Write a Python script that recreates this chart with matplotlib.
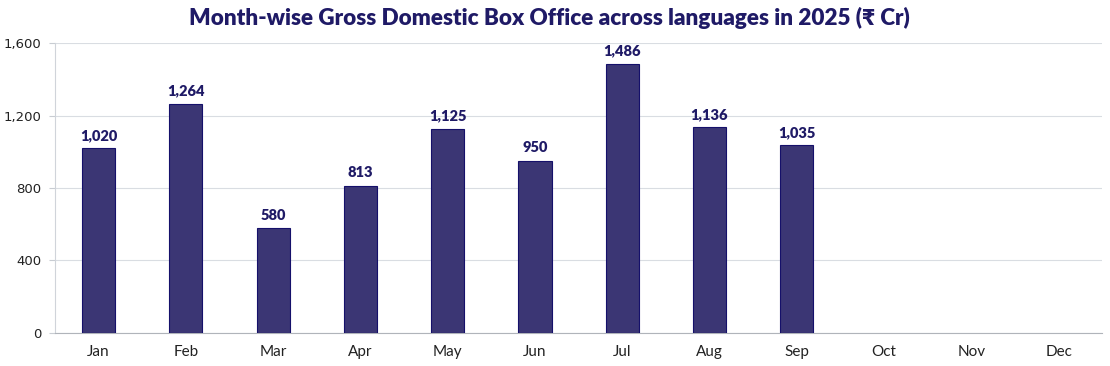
import numpy as np
import matplotlib.pyplot as plt
from matplotlib.ticker import FuncFormatter

months = ["Jan", "Feb", "Mar", "Apr", "May", "Jun", "Jul", "Aug", "Sep", "Oct", "Nov", "Dec"]
gross_cr = [1020, 1264, 580, 813, 1125, 950, 1486, 1136, 1035]
yticks = [0, 400, 800, 1200, 1600]

navy = "#1f1a66"
bar_color = "#3b3674"

fig = plt.figure(figsize=(11.1, 3.66), dpi=100)
ax = fig.add_axes([0.0495, 0.0902, 0.9435, 0.7923])

x = np.arange(len(months))
bars = ax.bar(x[:len(gross_cr)], gross_cr, width=0.38, color=bar_color,
              edgecolor="#15106a", linewidth=0.8, zorder=3)

for xi, v in zip(x, gross_cr):
    ax.text(xi, v + 35, f"{v:,}", ha="center", va="bottom", fontsize=10.5,
            fontweight="heavy", color=navy, family="Lato")

ax.set_xlim(-0.5, len(months) - 0.5)
ax.set_ylim(0, 1600)
ax.set_xticks(x)
ax.set_xticklabels(months, fontsize=11, family="Lato", color="#222222")
ax.set_yticks(yticks)
ax.yaxis.set_major_formatter(FuncFormatter(lambda v, p: f"{int(v):,}"))
ax.tick_params(axis="y", labelsize=9.5, length=4, color="#c8ccd2", labelcolor="#222222", pad=6)
ax.tick_params(axis="x", length=0, pad=9)
ax.grid(axis="y", color="#d9dde2", linewidth=0.8, zorder=0)

for s in ["top", "right"]:
    ax.spines[s].set_visible(False)
ax.spines["left"].set_color("#d0d4da")
ax.spines["bottom"].set_color("#b0b4ba")

fig.suptitle("Month-wise Gross Domestic Box Office across languages in 2025 (₹ Cr)",
             x=0.495, y=0.98, fontsize=16.2, fontweight="heavy", color=navy,
             family=["Lato", "Noto Sans", "DejaVu Sans"])

fig.savefig("out.png", dpi=100)
